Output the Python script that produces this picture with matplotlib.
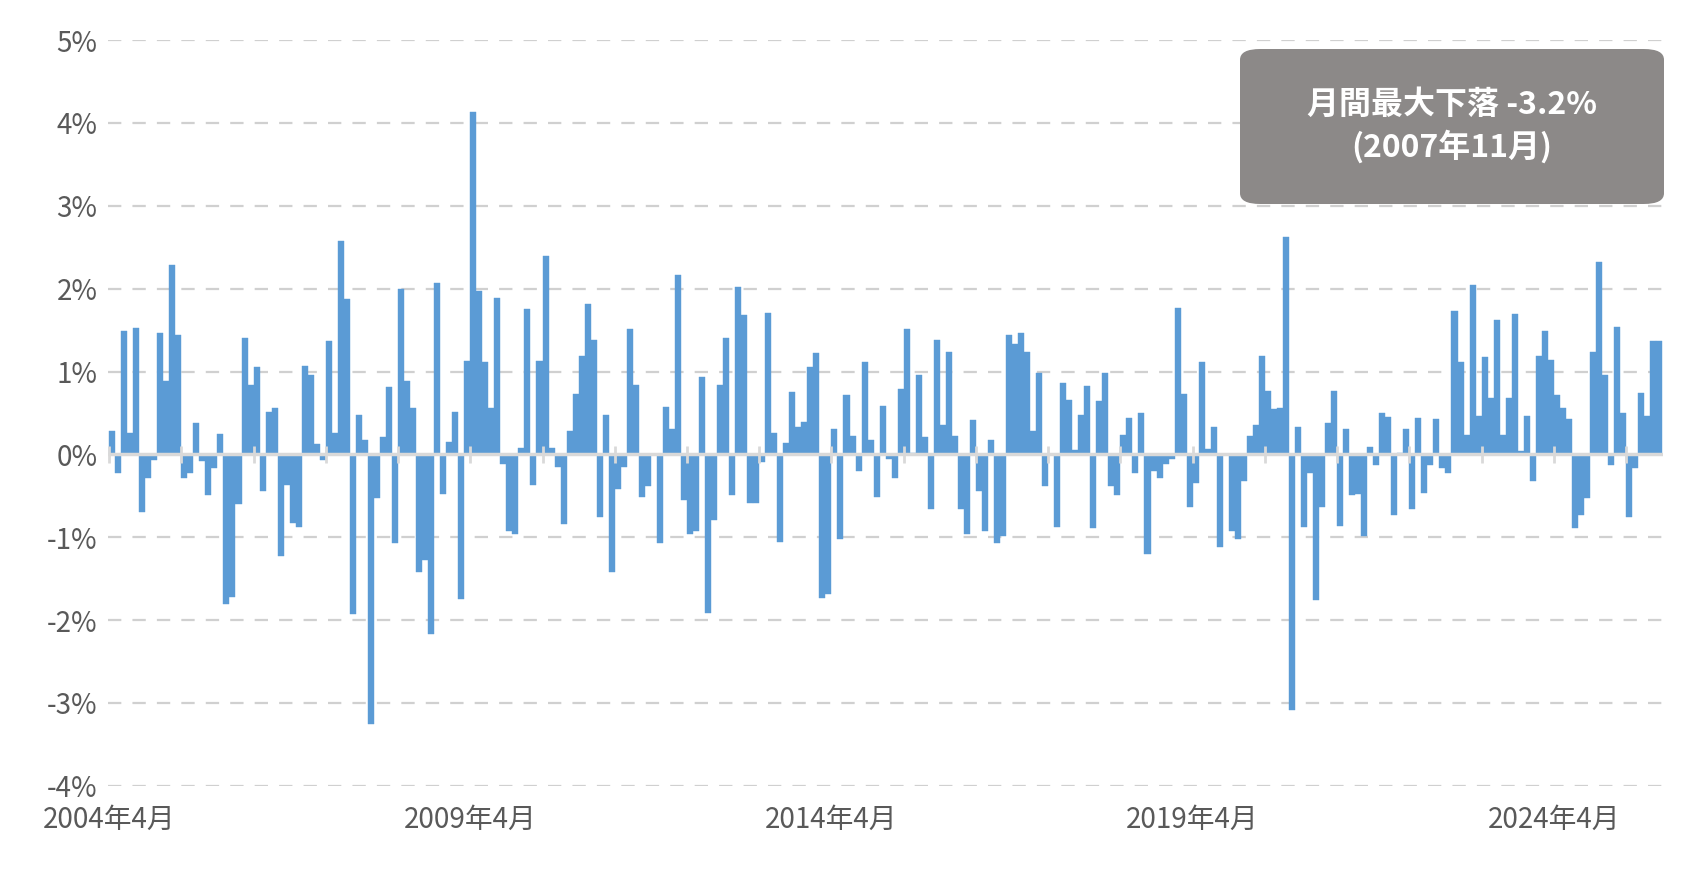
import matplotlib
matplotlib.use("Agg")
import matplotlib.pyplot as plt
from matplotlib.patches import FancyBboxPatch
import numpy as np

plt.rcParams['font.family'] = ['Noto Sans CJK JP', 'DejaVu Sans']

start_year, start_month = 2004, 4
returns = [
 0.28,-0.23,1.49,0.26,1.53,-0.69,-0.28,-0.07,1.47,0.88,2.29,1.44,-0.28,-0.22,0.38,-0.08,-0.49,-0.16,0.25,-1.81,
 -1.72,-0.60,1.40,0.84,1.06,-0.44,0.51,0.56,-1.22,-0.37,-0.83,-0.87,1.07,0.96,0.13,-0.07,1.37,0.26,2.58,1.88,
 -1.92,0.47,0.17,-3.25,-0.53,0.21,0.81,-1.07,2.00,0.89,0.56,-1.42,-1.27,-2.17,2.07,-0.48,0.15,0.51,-1.75,1.13,
 4.13,1.97,1.11,0.56,1.89,-0.12,-0.93,-0.96,0.08,1.75,-0.37,1.13,2.40,0.08,-0.15,-0.84,0.28,0.73,1.19,1.82,
 1.38,-0.76,0.47,-1.42,-0.42,-0.15,1.51,0.84,-0.52,-0.38,-0.01,-1.07,0.57,0.31,2.17,-0.55,-0.96,-0.93,0.94,-1.91,
 -0.79,0.84,1.40,-0.49,2.02,1.68,-0.59,-0.59,-0.09,1.71,0.26,-1.06,0.14,0.75,0.33,0.39,1.06,1.22,-1.73,-1.68,
 0.31,-1.02,0.72,0.22,-0.20,1.11,0.17,-0.52,0.59,-0.06,-0.29,0.79,1.51,0.02,0.96,0.21,-0.66,1.38,0.36,1.24,
 0.22,-0.66,-0.96,0.41,-0.44,-0.93,0.17,-1.07,-0.99,1.44,1.33,1.47,1.24,0.28,0.98,-0.38,0.00,-0.87,0.86,0.66,
 0.05,0.47,0.83,-0.89,0.64,0.98,-0.38,-0.49,0.24,0.44,-0.22,0.50,-1.20,-0.20,-0.29,-0.12,-0.06,1.77,0.73,-0.63,
 -0.35,1.11,0.06,0.33,-1.12,0.00,-0.93,-1.02,-0.32,0.22,0.35,1.19,0.76,0.55,0.56,2.62,-3.08,0.33,-0.87,-0.22,
 -1.76,-0.64,0.38,0.76,-0.86,0.31,-0.49,-0.48,-0.99,0.09,-0.13,0.50,0.45,-0.73,0.02,0.31,-0.66,0.44,-0.46,-0.13,
 0.43,-0.16,-0.23,1.73,1.11,0.24,2.04,0.46,1.17,0.68,1.62,0.24,0.68,1.69,0.04,0.46,-0.32,1.19,1.49,1.14,
 0.72,0.56,0.43,-0.89,-0.73,-0.53,1.24,2.32,0.96,-0.13,1.54,0.50,-0.76,-0.16,0.74,0.46,1.37,1.37,
]
ytick_values = [-4, -3, -2, -1, 0, 1, 2, 3, 4, 5]
xtick_years = [2004, 2009, 2014, 2019, 2024]
annotation = "月間最大下落 -3.2%\n(2007年11月)"

n = len(returns)
x = np.arange(n)

fig = plt.figure(figsize=(16.95, 8.91), dpi=100)
ax = fig.add_axes([0.064, 0.118, 0.917, 0.837])

ax.bar(x, returns, width=1.0, color='#5b9bd5', edgecolor='#5b9bd5', linewidth=0.3, zorder=3)

ax.set_ylim(-4, 5)
ax.set_xlim(-0.6, n - 0.4)
ax.set_yticks(ytick_values)
ax.set_yticklabels([f"{v}%" for v in ytick_values])
for v in ytick_values:
    if v != 0:
        ax.axhline(v, color='#d0d0d0', lw=1.6, dashes=(6, 5), zorder=1)
ax.axhline(0, color='#d9d9d9', lw=2.5, zorder=4)
yr_ticks = [12 * k - 0.5 for k in range(0, n // 12 + 1)]
ax.vlines(yr_ticks, -0.1, 0.1, color='#d9d9d9', lw=2, zorder=4)

xt = [(y - start_year) * 12 for y in xtick_years]
ax.set_xticks([t - 0.5 for t in xt])
ax.set_xticklabels([f"{y}年{start_month}月" for y in xtick_years])

for s in ax.spines.values():
    s.set_visible(False)
ax.tick_params(length=0, labelsize=20, colors='#595959', pad=8)
ax.tick_params(axis='x', pad=14)

box = FancyBboxPatch((1240 / 1695, 1 - 204 / 891), 424 / 1695, 155 / 891,
                     boxstyle="round,pad=0,rounding_size=0.012",
                     transform=fig.transFigure, facecolor='#8c8988', edgecolor='none', zorder=5)
fig.patches.append(box)
fig.text((1240 + 212) / 1695, 1 - 126 / 891, annotation, ha='center', va='center',
         fontsize=23, fontweight='bold', color='white', linespacing=1.35, zorder=6)

fig.savefig("out.png", dpi=100)
